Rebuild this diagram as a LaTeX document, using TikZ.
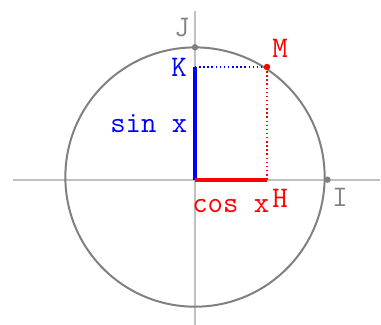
\documentclass[tikz,border=0pt]{standalone}
\usepackage{fontspec}
\usepackage{tikz}
\usetikzlibrary{positioning}
\definecolor{ucgray}{RGB}{128,128,128}
\definecolor{uclight}{RGB}{192,192,192}
\tikzset{
  ucaxis/.style={draw=uclight, line width=1.5pt},
  uccircle/.style={draw=ucgray, line width=1.5pt},
  ucsin/.style={draw=blue, line width=3pt},
  uccos/.style={draw=red, line width=3pt},
  ucproj/.style={dotted, line width=1.1pt},
  ucdot/.style={circle, inner sep=0pt, minimum size=0.17cm},
  uclabel/.style={inner sep=0pt, font=\ttfamily\fontsize{22.5}{26}\selectfont}
}
\begin{document}
\begin{tikzpicture}
  \useasboundingbox (-5.159,-3.844) rectangle (4.921,4.754);
  \coordinate (O) at (0,0);
  \coordinate (xl) at (-4.815,0);
  \coordinate (xr) at (4.895,0);
  \coordinate (yb) at (0,-3.844);
  \coordinate (yt) at (0,4.463);
  \coordinate (K) at (0,2.982);
  \coordinate (H) at (1.905,0);
  \coordinate (M) at (1.905,2.982);
  \coordinate (J) at (0,3.503);
  \coordinate (I) at (3.506,0);

  \draw[ucaxis] (xl) -- (xr);
  \draw[ucaxis] (yb) -- (yt);
  \draw[uccircle] (0,0.07) circle (3.43);
  \draw[ucproj, blue] (K) -- (M);
  \draw[ucproj, red] (M) -- (H);
  \draw[ucsin] (O) -- (K);
  \draw[uccos] (O) -- (H);

  \node[ucdot, fill=red] (Mdot) at (M) {};
  \node[ucdot, fill=ucgray] (Jdot) at (J) {};
  \node[ucdot, fill=ucgray] (Idot) at (I) {};

  \node[uclabel, text=ucgray, anchor=base] (Jl) at (-0.344,3.775) {J};
  \node[uclabel, text=blue, anchor=base] (Kl) at (-0.423,2.725) {K};
  \node[uclabel, text=red, anchor=base] (Ml) at (2.249,3.238) {M};
  \node[uclabel, text=blue, anchor=base east] (sinl) at (-0.198,1.236) {sin x};
  \node[uclabel, text=red, anchor=base west] (cosl) at (-0.079,-0.855) {cos x};
  \node[uclabel, text=red, anchor=base] (Hl) at (2.249,-0.749) {H};
  \node[uclabel, text=ucgray, anchor=base] (Il) at (3.836,-0.722) {I};
\end{tikzpicture}
\end{document}
